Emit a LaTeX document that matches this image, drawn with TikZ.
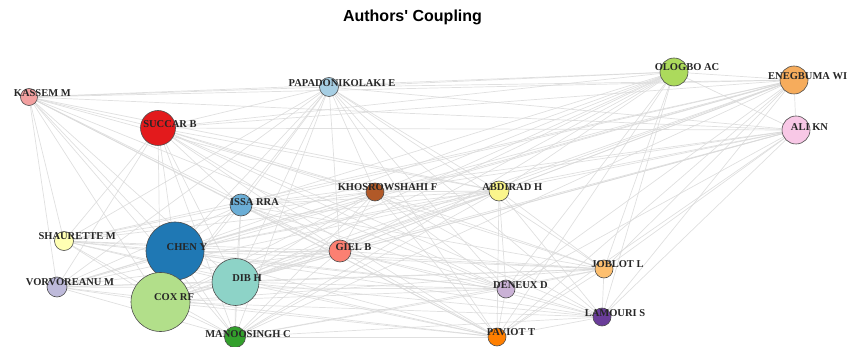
\documentclass[tikz,border=0pt]{standalone}
\usepackage{fontspec}
\setmainfont{Liberation Serif}
\newfontfamily\titlefont{Liberation Sans}
\usetikzlibrary{backgrounds}
\definecolor{cKas}{RGB}{242,160,160}
\definecolor{cSuc}{RGB}{227,26,28}
\definecolor{cPap}{RGB}{166,206,227}
\definecolor{cOlo}{RGB}{172,218,92}
\definecolor{cEne}{RGB}{246,172,92}
\definecolor{cAli}{RGB}{248,200,230}
\definecolor{cKho}{RGB}{177,89,40}
\definecolor{cIss}{RGB}{107,174,214}
\definecolor{cAbd}{RGB}{250,245,140}
\definecolor{cSha}{RGB}{255,255,179}
\definecolor{cChe}{RGB}{31,120,180}
\definecolor{cVor}{RGB}{190,186,218}
\definecolor{cCox}{RGB}{178,223,138}
\definecolor{cDib}{RGB}{141,211,199}
\definecolor{cGie}{RGB}{251,128,114}
\definecolor{cMan}{RGB}{51,160,44}
\definecolor{cJob}{RGB}{253,191,111}
\definecolor{cDen}{RGB}{202,178,214}
\definecolor{cLam}{RGB}{106,61,154}
\definecolor{cPav}{RGB}{255,127,0}
\definecolor{cEdge}{RGB}{218,218,218}
\tikzset{
  author/.style={circle, draw=black!70, line width=0.6pt, inner sep=0pt, minimum size=#1},
  lbl/.style={font=\fontsize{10.5}{11}\selectfont\bfseries, text=black!85, inner sep=0pt},
  coupling/.style={cEdge, line width=0.7pt, opacity=0.85}
}
\begin{document}
\begin{tikzpicture}[x=1pt, y=-1pt]
  \useasboundingbox (0,0) rectangle (859,347);
  % title
  \node[font=\titlefont\fontsize{16}{18}\selectfont\bfseries] (title) at (412.5,17) {Authors' Coupling};
  % authors, circle size = 2r
  \node[author=17pt, fill=cKas] (kas) at (29,97)    {};
  \node[author=35pt, fill=cSuc] (suc) at (158,128)  {};
  \node[author=19pt, fill=cPap] (pap) at (329,87)   {};
  \node[author=28pt, fill=cOlo] (olo) at (674,72)   {};
  \node[author=28pt, fill=cEne] (ene) at (794,80)   {};
  \node[author=28pt, fill=cAli] (ali) at (796,130)  {};
  \node[author=18pt, fill=cKho] (kho) at (375,192)  {};
  \node[author=22pt, fill=cIss] (iss) at (241,205)  {};
  \node[author=20pt, fill=cAbd] (abd) at (499,191)  {};
  \node[author=19pt, fill=cSha] (sha) at (64,241)   {};
  \node[author=58pt, fill=cChe] (che) at (175,251)  {};
  \node[author=20pt, fill=cVor] (vor) at (57,287)   {};
  \node[author=59pt, fill=cCox] (cox) at (160.5,302) {};
  \node[author=47pt, fill=cDib] (dib) at (235.5,282) {};
  \node[author=22pt, fill=cGie] (gie) at (340,251)  {};
  \node[author=21pt, fill=cMan] (man) at (235,337)  {};
  \node[author=18pt, fill=cJob] (job) at (604,269)  {};
  \node[author=18pt, fill=cDen] (den) at (506,289)  {};
  \node[author=18pt, fill=cLam] (lam) at (602,317)  {};
  \node[author=18pt, fill=cPav] (pav) at (497,337)  {};
  % names
  \node[lbl] (kas-l) at (42.3,93.3)  {KASSEM M};
  \node[lbl] (suc-l) at (170,124)    {SUCCAR B};
  \node[lbl] (pap-l) at (342,82.7)   {PAPADONIKOLAKI E};
  \node[lbl] (olo-l) at (687,67)     {OLOGBO AC};
  \node[lbl] (ene-l) at (807.7,76)   {ENEGBUMA WI};
  \node[lbl] (ali-l) at (809.5,126.7) {ALI KN};
  \node[lbl] (kho-l) at (387.5,187)  {KHOSROWSHAHI F};
  \node[lbl] (iss-l) at (254.5,201.7) {ISSA RRA};
  \node[lbl] (abd-l) at (512.3,187)  {ABDIRAD H};
  \node[lbl] (sha-l) at (77.2,236)   {SHAURETTE M};
  \node[lbl] (che-l) at (187,247.3)  {CHEN Y};
  \node[lbl] (vor-l) at (70,282.3)   {VORVOREANU M};
  \node[lbl] (cox-l) at (174,297.3)  {COX RF};
  \node[lbl] (dib-l) at (247,277.7)  {DIB H};
  \node[lbl] (gie-l) at (353.5,247.3) {GIEL B};
  \node[lbl] (man-l) at (248,334)    {MANOOSINGH C};
  \node[lbl] (job-l) at (617.5,264.3) {JOBLOT L};
  \node[lbl] (den-l) at (520.5,285)  {DENEUX D};
  \node[lbl] (lam-l) at (615,312.7)  {LAMOURI S};
  \node[lbl] (pav-l) at (511,332.3)  {PAVIOT T};
  % coupling links
  \begin{scope}[on background layer]
    \foreach \a/\bs in {kas/{suc,pap,olo,ene,ali,kho,iss,abd,sha,che,vor,cox,dib,gie,man,den,pav},
                        suc/{pap,olo,ene,ali,kho,iss,abd,sha,che,vor,cox,dib,gie,man,job,den,lam,pav},
                        pap/{olo,ene,ali,kho,iss,abd,sha,che,vor,cox,dib,gie,man,job,den,lam,pav},
                        olo/{ene,ali,kho,iss,abd,che,cox,dib,gie,man,job,den,lam,pav},
                        ene/{ali,kho,iss,abd,sha,che,vor,cox,dib,gie,man,job,den,lam,pav},
                        ali/{kho,iss,abd,che,cox,dib,gie,job,den,lam,pav},
                        kho/{iss,abd,sha,che,vor,cox,dib,gie,man,job,den,lam,pav},
                        iss/{abd,sha,che,vor,cox,dib,gie,man,job,den,pav},
                        abd/{sha,che,vor,cox,dib,gie,man,job,den,lam,pav},
                        sha/{che,cox,dib,gie,man,job,den,pav},
                        che/{vor,cox,dib,gie,man,job,den,lam,pav},
                        vor/{cox,dib,gie,man,job,den,pav},
                        cox/{dib,gie,man,job,den,lam,pav},
                        dib/{gie,man,job,den,lam,pav},
                        gie/{man,job,den,lam,pav},
                        man/{job,den,lam,pav},
                        job/{den,lam,pav},
                        den/{lam,pav},
                        lam/{pav}}
      \foreach \b in \bs
        \draw[coupling] (\a) -- (\b);
  \end{scope}
\end{tikzpicture}
\end{document}
